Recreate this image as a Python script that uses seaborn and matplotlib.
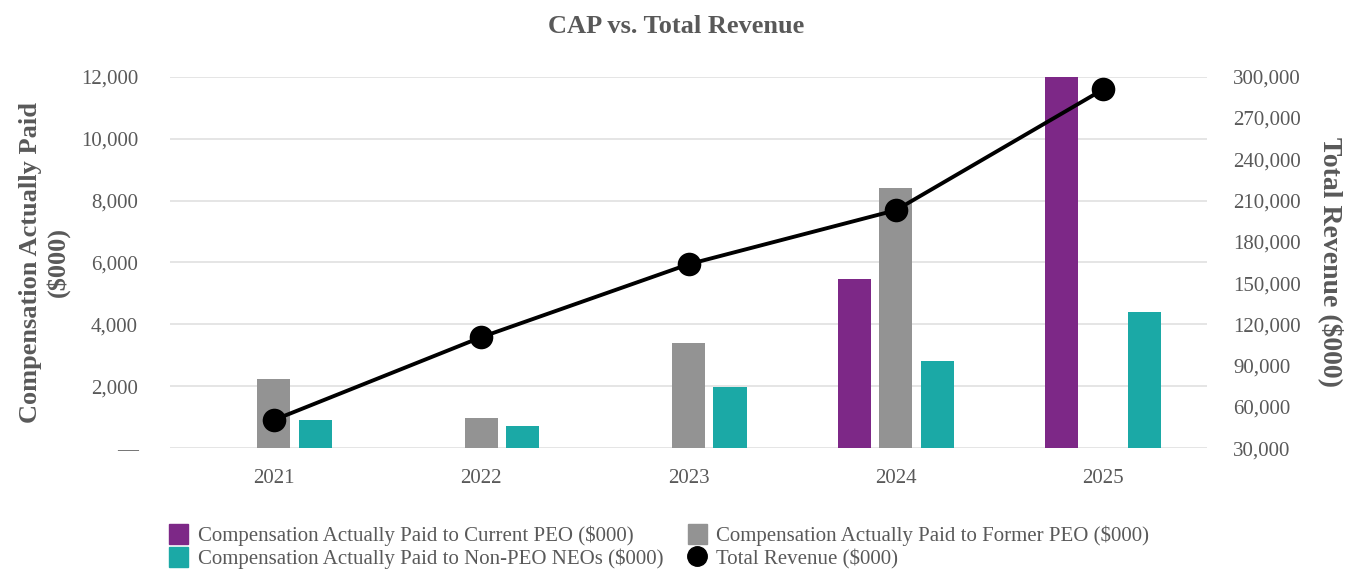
import numpy as np
import pandas as pd
import seaborn as sns
import matplotlib.pyplot as plt
from matplotlib.ticker import FuncFormatter, MultipleLocator
from matplotlib.patches import Patch
from matplotlib.lines import Line2D

# values ($000)
years = ["2021", "2022", "2023", "2024", "2025"]
cap_current_peo = [np.nan, np.nan, np.nan, 5480, 12000]
cap_former_peo = [2240, 970, 3390, 8400, np.nan]
cap_non_peo = [910, 710, 1990, 2810, 4390]
total_revenue = [50500, 110700, 163700, 203000, 290800]

series_names = [
    "Compensation Actually Paid to Current PEO ($000)",
    "Compensation Actually Paid to Former PEO ($000)",
    "Compensation Actually Paid to Non-PEO NEOs ($000)",
]
colors = ["#7D2887", "#939393", "#1BA9A6"]
text_gray = "#595959"

df = pd.DataFrame({
    "Year": years * 3,
    "Series": np.repeat(series_names, len(years)),
    "CAP": cap_current_peo + cap_former_peo + cap_non_peo,
}).dropna()

sns.set_theme(style="white")
plt.rcParams["font.family"] = ["Liberation Serif", "DejaVu Serif"]

fig = plt.figure(figsize=(13.45, 5.7), dpi=100)
ax = fig.add_axes([0.1264, 0.2135, 0.771, 0.652])

sns.barplot(data=df, x="Year", y="CAP", hue="Series", order=years,
            hue_order=series_names, palette=colors, width=0.6, gap=0.2,
            linewidth=0, saturation=1, legend=False, ax=ax)

ax.set_xlim(-0.5, len(years) - 0.5)
ax.set_ylim(0, 12000)
ax.yaxis.set_major_locator(MultipleLocator(2000))
ax.yaxis.set_major_formatter(FuncFormatter(lambda v, p: "—" if v == 0 else f"{v:,.0f}"))
ax.grid(axis="y", color="#E0E0E0", linewidth=1.2)
ax.set_axisbelow(True)
for s in ax.spines.values():
    s.set_visible(False)
ax.tick_params(axis="y", length=0, pad=23, labelsize=15, labelcolor=text_gray)
ax.tick_params(axis="x", length=0, pad=15, labelsize=15, labelcolor=text_gray)
ax.set_xlabel("")
ax.set_ylabel("Compensation Actually Paid\n($000)", fontsize=19, fontweight="bold",
              color=text_gray, labelpad=8, linespacing=1.2)

# revenue line on secondary axis
ax2 = ax.twinx()
sns.lineplot(x=np.arange(len(years)), y=total_revenue, color="black", linewidth=2.8,
             marker="o", markersize=17, markeredgewidth=0, ax=ax2)
ax2.set_ylim(30000, 300000)
ax2.yaxis.set_major_locator(MultipleLocator(30000))
ax2.yaxis.set_major_formatter(FuncFormatter(lambda v, p: f"{v:,.0f}"))
for s in ax2.spines.values():
    s.set_visible(False)
ax2.grid(False)
ax2.tick_params(axis="y", length=0, pad=19, labelsize=15, labelcolor=text_gray)
ax2.set_ylabel("Total Revenue ($000)", fontsize=20, fontweight="bold", color=text_gray,
               rotation=270, va="bottom", labelpad=12)

fig.text(0.5026, 0.953, "CAP vs. Total Revenue", ha="center", va="center",
         fontsize=19, fontweight="bold", color=text_gray)

handles = [
    Patch(color=colors[0], label=series_names[0]),
    Patch(color=colors[2], label=series_names[2]),
    Patch(color=colors[1], label=series_names[1]),
    Line2D([], [], color="black", marker="o", linestyle="none", markersize=14,
           label="Total Revenue ($000)"),
]
leg = fig.legend(handles=handles, ncol=2, loc="upper left",
                 bbox_to_anchor=(0.126, 1 - 524 / 570),
                 frameon=False, fontsize=15, handlelength=0.9, handleheight=1.1,
                 handletextpad=0.45, columnspacing=1.2, labelspacing=0.05,
                 borderaxespad=0, borderpad=0)
for t in leg.get_texts():
    t.set_color(text_gray)

fig.savefig("out.png", dpi=100)
